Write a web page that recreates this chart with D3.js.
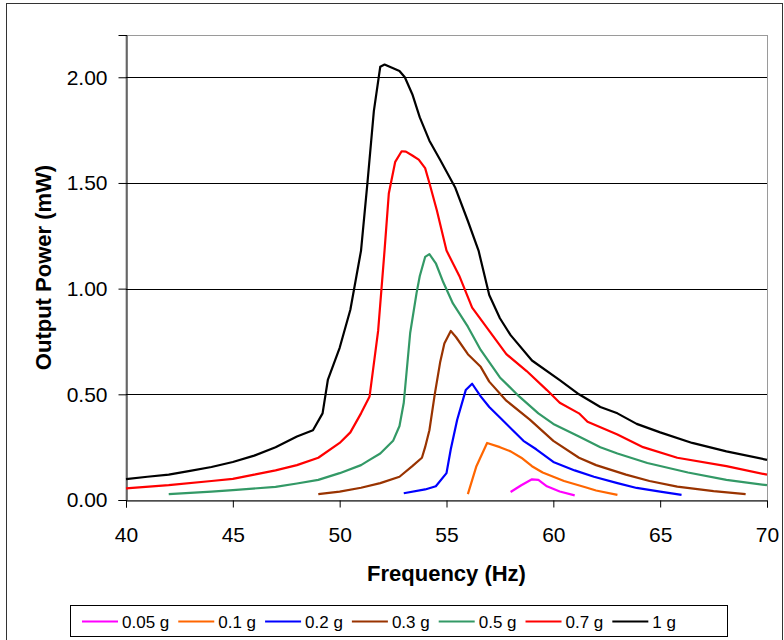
<!DOCTYPE html>
<html>
<head>
<meta charset="utf-8">
<script src="https://cdn.jsdelivr.net/npm/d3@7"></script>
<style>
  body { margin: 0; background: #fff; }
  svg { display: block; font-family: "Liberation Sans", Arial, sans-serif; }
</style>
</head>
<body>
<div id="chart"></div>
<script>
// series: [frequency Hz, output power mW]
const g005 = [[58, 0.038], [58.5, 0.07], [59, 0.098], [59.3, 0.095], [59.7, 0.065], [60.3, 0.04], [61, 0.022]];
const g01 = [[56, 0.028], [56.4, 0.16], [56.9, 0.27], [57.5, 0.25], [58, 0.23], [58.5, 0.2], [59, 0.16], [59.5, 0.13],
  [60, 0.11], [60.5, 0.09], [61.5, 0.06], [62, 0.045], [63, 0.024]];
const g02 = [[53, 0.032], [54, 0.05], [54.5, 0.065], [55, 0.127], [55.2, 0.24], [55.5, 0.38], [55.9, 0.52], [56.2, 0.55],
  [56.6, 0.49], [57, 0.44], [57.5, 0.39], [58.1, 0.33], [58.6, 0.28], [59.2, 0.24], [60, 0.18], [61, 0.14], [61.9, 0.11],
  [63, 0.08], [63.9, 0.057], [65, 0.04], [66, 0.024]];
const g03 = [[49, 0.028], [50, 0.04], [51, 0.058], [51.9, 0.08], [52.8, 0.11], [53.4, 0.16], [53.85, 0.2], [54, 0.25],
  [54.2, 0.33], [54.45, 0.5], [54.7, 0.65], [54.9, 0.74], [55.2, 0.8], [55.45, 0.77], [56, 0.69], [56.6, 0.63], [57, 0.56],
  [57.8, 0.47], [58.9, 0.38], [60, 0.28], [61.2, 0.2], [62, 0.165], [63.4, 0.12], [64.5, 0.09], [65.8, 0.063],
  [67.5, 0.042], [69, 0.028]];
const g05 = [[42, 0.028], [44, 0.04], [45, 0.047], [47, 0.062], [48, 0.078], [49, 0.095], [50, 0.127], [51, 0.165],
  [51.4, 0.19], [51.9, 0.22], [52.5, 0.28], [52.8, 0.35], [53, 0.46], [53.3, 0.79], [53.6, 0.98], [53.75, 1.06],
  [54, 1.15], [54.2, 1.163], [54.5, 1.12], [54.85, 1.03], [55.3, 0.93], [56, 0.82], [56.6, 0.71], [57.5, 0.58],
  [58.4, 0.49], [59.3, 0.41], [60, 0.36], [61.2, 0.3], [62.2, 0.25], [63, 0.22], [64.4, 0.175], [66.3, 0.13],
  [68.1, 0.095], [70, 0.07]];
const g07 = [[40, 0.055], [42, 0.07], [44, 0.09], [45, 0.1], [46, 0.12], [47, 0.14], [48, 0.165], [49, 0.2], [50, 0.27],
  [50.5, 0.32], [51, 0.41], [51.4, 0.49], [51.8, 0.8], [52.1, 1.18], [52.3, 1.45], [52.6, 1.6], [52.9, 1.65],
  [53.1, 1.648], [53.4, 1.63], [53.7, 1.61], [54, 1.57], [54.2, 1.5], [54.55, 1.37], [55, 1.18], [55.6, 1.06],
  [56.2, 0.91], [57, 0.8], [57.8, 0.69], [58.75, 0.61], [59.7, 0.52], [60.3, 0.46], [61.2, 0.41], [61.6, 0.37],
  [63, 0.31], [64.2, 0.25], [65.8, 0.2], [68.1, 0.16], [70, 0.12]];
const g1 = [[40, 0.099], [41, 0.11], [42, 0.12], [43, 0.138], [44, 0.156], [45, 0.18], [46, 0.21], [47, 0.25], [48, 0.3],
  [48.75, 0.33], [49.2, 0.41], [49.45, 0.57], [50, 0.72], [50.5, 0.9], [51, 1.18], [51.3, 1.5], [51.6, 1.84],
  [51.9, 2.05], [52.1, 2.06], [52.8, 2.03], [53.05, 2.0], [53.4, 1.92], [53.75, 1.81], [54.2, 1.7], [54.7, 1.61],
  [55.4, 1.48], [56, 1.32], [56.5, 1.18], [57, 0.97], [57.5, 0.86], [58, 0.78], [59, 0.66], [60.3, 0.567],
  [61.2, 0.5], [62.2, 0.44], [63, 0.41], [63.9, 0.36], [65, 0.32], [66.5, 0.27], [68.1, 0.23], [70, 0.19]];

const seriesNames = ["0.05 g", "0.1 g", "0.2 g", "0.3 g", "0.5 g", "0.7 g", "1 g"];
const seriesData = [g005, g01, g02, g03, g05, g07, g1];
const seriesColors = ["#ff00ff", "#ff6600", "#0000ff", "#993300", "#339966", "#ff0000", "#000000"];

const xTicks = [40, 45, 50, 55, 60, 65, 70];
const yTicks = [0, 0.5, 1.0, 1.5, 2.0];

const W = 784, H = 640;
const plot = { left: 126, right: 767, top: 35, bottom: 500 };

const svg = d3.select("#chart").append("svg")
  .attr("width", W).attr("height", H);

// outer chart frame
svg.append("rect")
  .attr("x", 6.5).attr("y", 3.5)
  .attr("width", 776).attr("height", 650)
  .attr("fill", "#fff")
  .attr("stroke", "#333").attr("stroke-width", 1);

let x = d3.scaleLinear().domain([40, 70]).range([plot.left, plot.right]);
let y = d3.scaleLinear().domain([0, 2.2]).range([plot.bottom, plot.top]);

// plot border
svg.append("rect")
  .attr("x", plot.left).attr("y", plot.top + 0.5)
  .attr("width", plot.right - plot.left + 0.5).attr("height", plot.bottom - plot.top)
  .attr("fill", "none").attr("stroke", "#9a9a9a");

// gridlines
svg.append("g")
  .selectAll("line")
  .data(yTicks.filter((t) => t > 0))
  .join("line")
  .attr("x1", plot.left).attr("x2", plot.right)
  .attr("y1", (d) => Math.round(y(d)) + 0.5).attr("y2", (d) => Math.round(y(d)) + 0.5)
  .attr("stroke", "#000");

// axes
const yAxis = svg.append("g")
  .attr("transform", `translate(${plot.left + 0.5},0)`)
  .call(d3.axisLeft(y).tickValues(yTicks).tickFormat(d3.format(".2f")).tickSize(8).tickPadding(11));
const xAxis = svg.append("g")
  .attr("transform", `translate(0,${plot.bottom + 0.5})`)
  .call(d3.axisBottom(x).tickValues(xTicks).tickSize(7).tickPadding(20));

[yAxis, xAxis].forEach((a) => {
  a.select(".domain").attr("stroke", "#000");
  a.selectAll(".tick line").attr("stroke", "#000");
  a.selectAll("text")
    .attr("fill", "#000")
    .style("font-size", "21px")
    .style("font-family", "'Liberation Sans', Arial, sans-serif");
});

// axis titles
svg.append("text")
  .attr("x", (plot.left + plot.right) / 2)
  .attr("y", 581)
  .attr("text-anchor", "middle")
  .style("font-size", "22px")
  .style("font-weight", "bold")
  .text("Frequency (Hz)");

svg.append("text")
  .attr("transform", `translate(51,${(plot.top + plot.bottom) / 2}) rotate(-90)`)
  .attr("text-anchor", "middle")
  .style("font-size", "22px")
  .style("font-weight", "bold")
  .text("Output Power (mW)");

// series lines
let line = d3.line()
  .x((d) => x(d[0]))
  .y((d) => y(d[1]));

seriesData.forEach((data, i) => {
  svg.append("path")
    .datum(data)
    .attr("d", line)
    .attr("fill", "none")
    .attr("stroke", seriesColors[i])
    .attr("stroke-width", 2.2)
    .attr("stroke-linejoin", "round");
});

// legend
const legend = svg.append("g");
legend.append("rect")
  .attr("x", 70.5).attr("y", 605.5)
  .attr("width", 657).attr("height", 31)
  .attr("fill", "#fff").attr("stroke", "#000");

let lx = 82;
seriesNames.forEach((name, i) => {
  legend.append("line")
    .attr("x1", lx).attr("x2", lx + 36)
    .attr("y1", 621.5).attr("y2", 621.5)
    .attr("stroke", seriesColors[i])
    .attr("stroke-width", 2.2);
  const t = legend.append("text")
    .attr("x", lx + 40)
    .attr("y", 628)
    .style("font-size", "17px")
    .text(name);
  lx += 40 + t.node().getComputedTextLength() + 9;
});
</script>
</body>
</html>
